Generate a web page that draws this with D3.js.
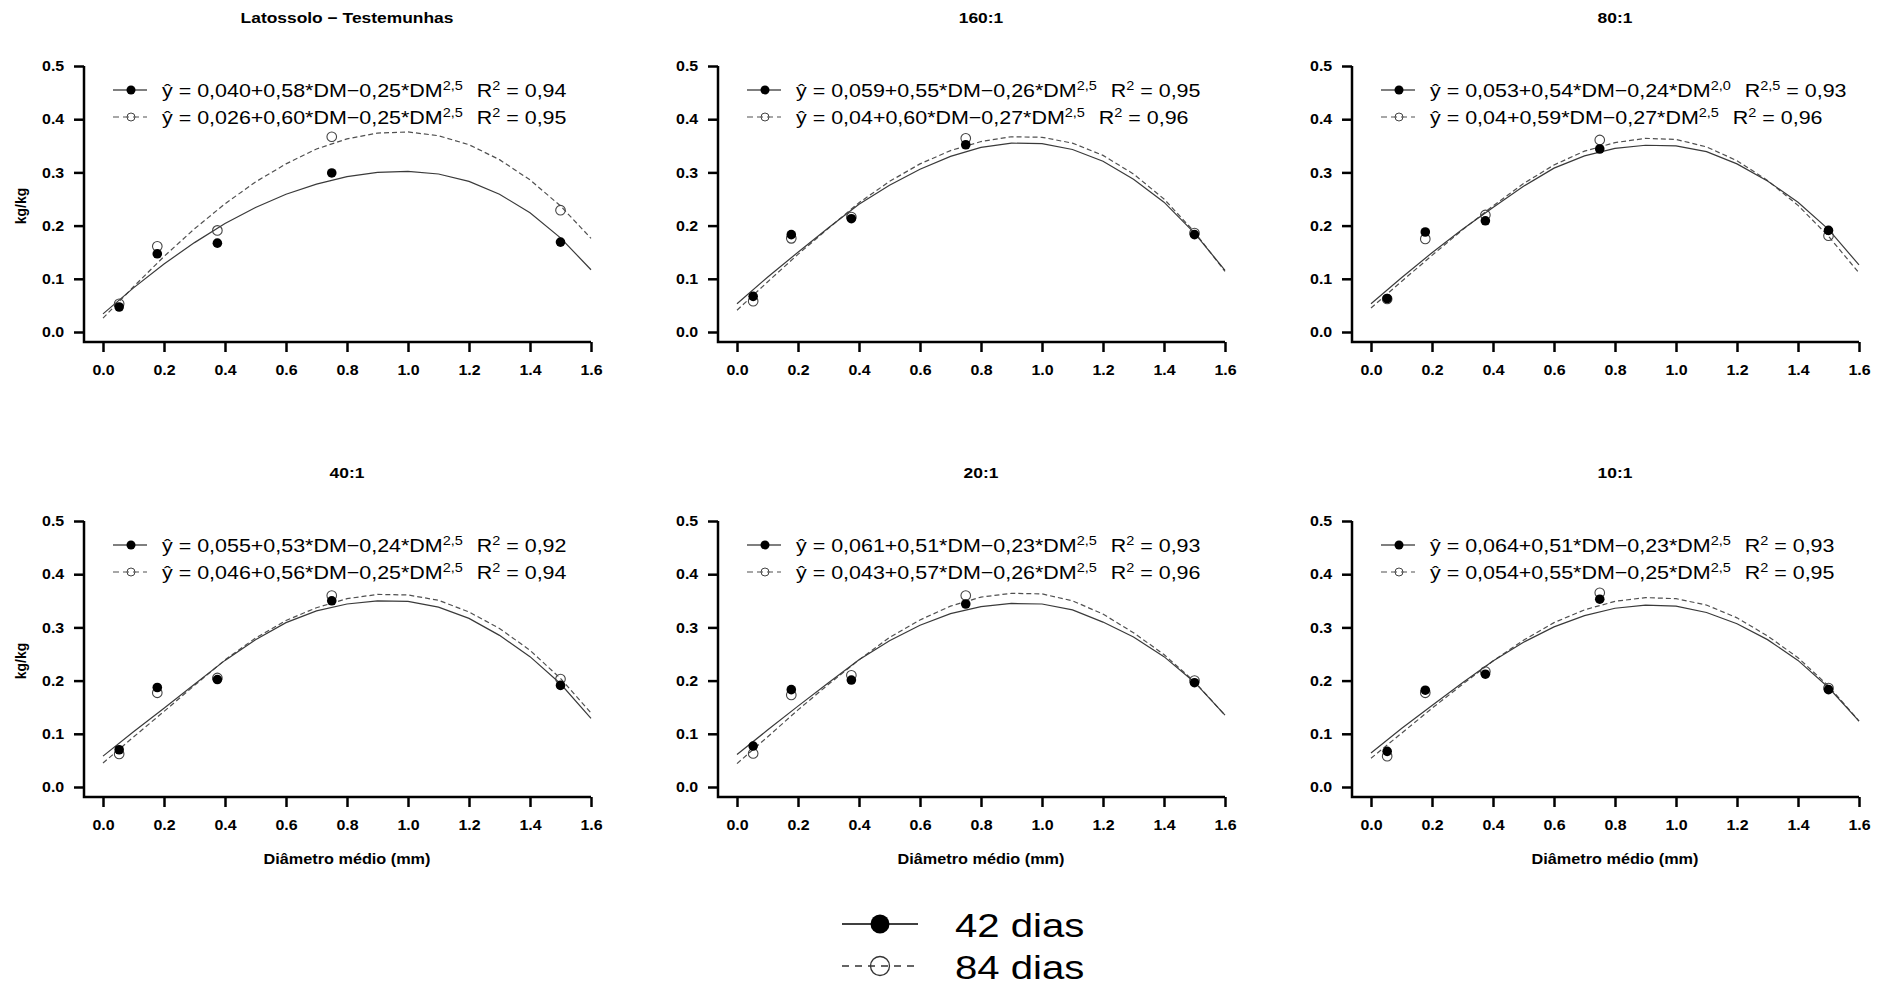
<!DOCTYPE html>
<html lang="pt">
<head>
<meta charset="utf-8">
<title>Diâmetro médio</title>
<script src="https://d3js.org/d3.v7.min.js"></script>
<style>
  body { margin: 0; background: #fff; }
  svg { display: block; font-family: "Liberation Sans", Arial, sans-serif; }
  .tick text { font-weight: bold; font-size: 14.5px; fill: #000; }
  .tick line { stroke: #000; stroke-width: 2.5px; }
</style>
</head>
<body>
<div id="chart"></div>
<script>
// panel titles
const panelTitles = ["Latossolo \u2212 Testemunhas", "160:1", "80:1", "40:1", "20:1", "10:1"];

// observed points (x = mean diameter, mm)
const dmPoints = [0.053, 0.178, 0.375, 0.75, 1.5];
const obs42 = [
  [0.047, 0.147, 0.167, 0.299, 0.169],
  [0.067, 0.183, 0.213, 0.352, 0.183],
  [0.063, 0.188, 0.209, 0.344, 0.191],
  [0.070, 0.187, 0.202, 0.350, 0.191],
  [0.077, 0.183, 0.201, 0.344, 0.196],
  [0.067, 0.182, 0.212, 0.353, 0.183]
];
const obs84 = [
  [0.053, 0.161, 0.191, 0.367, 0.229],
  [0.058, 0.176, 0.216, 0.364, 0.186],
  [0.062, 0.175, 0.220, 0.361, 0.181],
  [0.062, 0.177, 0.205, 0.360, 0.203],
  [0.063, 0.173, 0.210, 0.360, 0.200],
  [0.058, 0.177, 0.217, 0.365, 0.186]
];

// fitted curves, every 0.1 mm
const curveX = [0.0, 0.1, 0.2, 0.3, 0.4, 0.5, 0.6, 0.7, 0.8, 0.9, 1.0, 1.1, 1.2, 1.3, 1.4, 1.5, 1.6];
const fit42 = [
  [0.034, 0.083, 0.128, 0.168, 0.204, 0.234, 0.259, 0.278, 0.292, 0.300, 0.302, 0.297, 0.283, 0.259, 0.224, 0.177, 0.117],
  [0.053, 0.103, 0.150, 0.196, 0.240, 0.276, 0.306, 0.330, 0.347, 0.355, 0.354, 0.343, 0.321, 0.287, 0.244, 0.186, 0.116],
  [0.053, 0.102, 0.149, 0.193, 0.234, 0.274, 0.308, 0.331, 0.345, 0.351, 0.350, 0.339, 0.316, 0.284, 0.244, 0.193, 0.126],
  [0.058, 0.104, 0.148, 0.193, 0.238, 0.277, 0.309, 0.331, 0.344, 0.350, 0.349, 0.338, 0.317, 0.285, 0.245, 0.194, 0.129],
  [0.061, 0.107, 0.152, 0.196, 0.239, 0.275, 0.304, 0.326, 0.339, 0.345, 0.344, 0.333, 0.310, 0.282, 0.245, 0.197, 0.135],
  [0.064, 0.110, 0.153, 0.196, 0.237, 0.272, 0.301, 0.322, 0.336, 0.342, 0.340, 0.328, 0.307, 0.277, 0.238, 0.187, 0.124]
];
const fit84 = [
  [0.026, 0.085, 0.142, 0.194, 0.241, 0.282, 0.316, 0.344, 0.363, 0.374, 0.376, 0.369, 0.352, 0.324, 0.286, 0.237, 0.176],
  [0.041, 0.094, 0.146, 0.195, 0.243, 0.283, 0.316, 0.341, 0.358, 0.367, 0.366, 0.355, 0.332, 0.297, 0.250, 0.188, 0.114],
  [0.045, 0.095, 0.144, 0.192, 0.237, 0.279, 0.314, 0.340, 0.356, 0.364, 0.362, 0.348, 0.322, 0.285, 0.238, 0.180, 0.111],
  [0.045, 0.094, 0.142, 0.191, 0.239, 0.280, 0.313, 0.337, 0.354, 0.362, 0.361, 0.351, 0.329, 0.298, 0.257, 0.204, 0.139],
  [0.044, 0.094, 0.145, 0.193, 0.239, 0.281, 0.314, 0.340, 0.357, 0.364, 0.363, 0.350, 0.325, 0.290, 0.249, 0.198, 0.135],
  [0.054, 0.101, 0.148, 0.193, 0.237, 0.276, 0.309, 0.333, 0.349, 0.356, 0.354, 0.342, 0.318, 0.284, 0.243, 0.190, 0.124]
];

// equation labels
const eqText42 = ["\u0177 = 0,040+0,58*DM\u22120,25*DM", "\u0177 = 0,059+0,55*DM\u22120,26*DM", "\u0177 = 0,053+0,54*DM\u22120,24*DM",
                  "\u0177 = 0,055+0,53*DM\u22120,24*DM", "\u0177 = 0,061+0,51*DM\u22120,23*DM", "\u0177 = 0,064+0,51*DM\u22120,23*DM"];
const eqExp42 = ["2,5", "2,5", "2,0", "2,5", "2,5", "2,5"];
const r2Exp42 = ["2", "2", "2,5", "2", "2", "2"];
const r2Val42 = ["0,94", "0,95", "0,93", "0,92", "0,93", "0,93"];
const eqText84 = ["\u0177 = 0,026+0,60*DM\u22120,25*DM", "\u0177 = 0,04+0,60*DM\u22120,27*DM", "\u0177 = 0,04+0,59*DM\u22120,27*DM",
                  "\u0177 = 0,046+0,56*DM\u22120,25*DM", "\u0177 = 0,043+0,57*DM\u22120,26*DM", "\u0177 = 0,054+0,55*DM\u22120,25*DM"];
const eqExp84 = ["2,5", "2,5", "2,5", "2,5", "2,5", "2,5"];
const r2Exp84 = ["2", "2", "2", "2", "2", "2"];
const r2Val84 = ["0,95", "0,96", "0,96", "0,94", "0,96", "0,95"];

const xTicks = [0.0, 0.2, 0.4, 0.6, 0.8, 1.0, 1.2, 1.4, 1.6];
const yTicks = [0.0, 0.1, 0.2, 0.3, 0.4, 0.5];
const seriesNames = ["42 dias", "84 dias"];

// layout
const W = 1887, H = 986;
const colX = [103, 737, 1371];   // pixel of DM = 0
const rowY = [66, 521];          // pixel of y = 0.5
const plotW = 488, plotH = 266;
const SX = 1.16;                 // the source figure is stretched horizontally

const svg = d3.select("#chart").append("svg")
    .attr("width", W).attr("height", H);

const solidColor = "#3a3a3a", dashColor = "#505050";

panelTitles.forEach(function (title, i) {
  const col = i % 3, row = Math.floor(i / 3);
  const x0 = colX[col], yTop = rowY[row];
  const x = d3.scaleLinear().domain([0, 1.6]).range([x0, x0 + plotW]);
  const y = d3.scaleLinear().domain([0, 0.5]).range([yTop + plotH, yTop]);
  const axisY = yTop + plotH + 10, axisX = x0 - 19;
  const g = svg.append("g");

  // title
  g.append("text")
      .attr("transform", "translate(" + (x0 + plotW / 2) + "," + (yTop - 43) + ") scale(" + SX + ",1)")
      .attr("text-anchor", "middle")
      .style("font-weight", "bold").style("font-size", "15px")
      .text(title);

  // axes
  const xa = g.append("g").attr("transform", "translate(0," + axisY + ")")
      .call(d3.axisBottom(x).tickValues(xTicks).tickSize(10).tickPadding(13).tickFormat(d3.format(".1f")));
  xa.select(".domain").remove();
  xa.selectAll(".tick text").attr("transform", "scale(1.1,1)");

  const ya = g.append("g").attr("transform", "translate(" + axisX + ",0)")
      .call(d3.axisLeft(y).tickValues(yTicks).tickSize(10).tickPadding(8).tickFormat(d3.format(".1f")));
  ya.select(".domain").remove();
  ya.selectAll(".tick text").attr("transform", "scale(1.1,1)");

  // L-shaped box
  g.append("path")
      .attr("d", "M" + axisX + "," + y(0.5) + "V" + axisY + "H" + x(1.6))
      .attr("fill", "none").attr("stroke", "#000").attr("stroke-width", 2.5);

  // axis titles
  if (col === 0) {
    g.append("text")
        .attr("transform", "translate(26," + (yTop + (plotH + 10) / 2 + 2) + ") rotate(-90)")
        .attr("text-anchor", "middle")
        .style("font-weight", "bold").style("font-size", "14px")
        .text("kg/kg");
  }
  if (row === 1) {
    g.append("text")
        .attr("transform", "translate(" + (x0 + plotW / 2) + "," + (axisY + 67) + ") scale(" + SX + ",1)")
        .attr("text-anchor", "middle")
        .style("font-weight", "bold").style("font-size", "14px")
        .text("Di\u00e2metro m\u00e9dio (mm)");
  }

  // fitted curves
  const line = d3.line().x((d, k) => x(curveX[k])).y(d => y(d));
  g.append("path").attr("d", line(fit84[i]))
      .attr("fill", "none").attr("stroke", dashColor).attr("stroke-width", 1.2)
      .attr("stroke-dasharray", "5,3");
  g.append("path").attr("d", line(fit42[i]))
      .attr("fill", "none").attr("stroke", solidColor).attr("stroke-width", 1.2);

  // observed points
  g.selectAll(".p84").data(obs84[i]).join("circle")
      .attr("cx", (d, k) => x(dmPoints[k])).attr("cy", d => y(d)).attr("r", 4.8)
      .attr("fill", "none").attr("stroke", "#444").attr("stroke-width", 1.1);
  g.selectAll(".p42").data(obs42[i]).join("circle")
      .attr("cx", (d, k) => x(dmPoints[k])).attr("cy", d => y(d)).attr("r", 4.8)
      .attr("fill", "#000");

  // inset legend with equations
  const legRows = [
    { ly: yTop + 24, eq: eqText42[i], ex: eqExp42[i], rx: r2Exp42[i], rv: r2Val42[i], dashed: false },
    { ly: yTop + 51, eq: eqText84[i], ex: eqExp84[i], rx: r2Exp84[i], rv: r2Val84[i], dashed: true }
  ];
  legRows.forEach(function (r) {
    g.append("line")
        .attr("x1", x0 + 10).attr("x2", x0 + 44).attr("y1", r.ly).attr("y2", r.ly)
        .attr("stroke", r.dashed ? dashColor : "#000").attr("stroke-width", 1.2)
        .attr("stroke-dasharray", r.dashed ? "6,4" : null);
    g.append("circle")
        .attr("cx", x0 + 28).attr("cy", r.ly).attr("r", r.dashed ? 4 : 4.5)
        .attr("fill", r.dashed ? "none" : "#000")
        .attr("stroke", r.dashed ? "#444" : "none").attr("stroke-width", 1);
    const t = g.append("text")
        .attr("transform", "translate(" + (x0 + 59) + "," + (r.ly + 7) + ") scale(" + SX + ",1)")
        .style("font-size", "18.5px");
    t.append("tspan").text(r.eq);
    t.append("tspan").attr("dy", -7.5).style("font-size", "12.5px").text(r.ex);
    t.append("tspan").attr("dy", 7.5).attr("dx", 12).text("R");
    t.append("tspan").attr("dy", -7.5).style("font-size", "12.5px").text(r.rx);
    t.append("tspan").attr("dy", 7.5).text(" = " + r.rv);
  });
});

// bottom legend
const legY = [924, 966];
seriesNames.forEach(function (name, k) {
  const lg = svg.append("g");
  lg.append("line")
      .attr("x1", 842).attr("x2", 918).attr("y1", legY[k]).attr("y2", legY[k])
      .attr("stroke", k === 0 ? "#000" : "#333").attr("stroke-width", 1.4)
      .attr("stroke-dasharray", k === 0 ? null : "7,6");
  lg.append("circle")
      .attr("cx", 880).attr("cy", legY[k]).attr("r", 9.5)
      .attr("fill", k === 0 ? "#000" : "none")
      .attr("stroke", k === 0 ? "none" : "#333").attr("stroke-width", 1.3);
  lg.append("text")
      .attr("transform", "translate(955," + (legY[k] + 12.5) + ") scale(1.18,1)")
      .style("font-size", "34px")
      .text(name);
});
</script>
</body>
</html>
